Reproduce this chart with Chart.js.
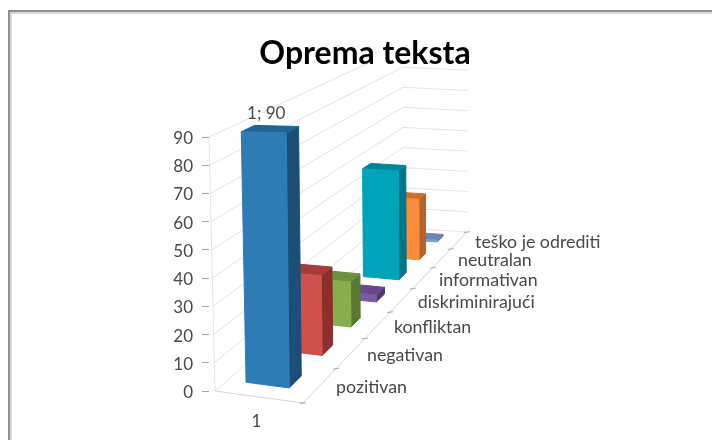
<!DOCTYPE html>
<html><head><meta charset="utf-8">
<script src="https://cdn.jsdelivr.net/npm/chart.js@4"></script>
<style>html,body{margin:0;padding:0;background:#fff}canvas{display:block;filter:blur(.6px)}</style>
</head><body><canvas id="c" width="712" height="440"></canvas>
<script>
const chartTitle = 'Oprema teksta';
const categoryLabel = '1';
const seriesNames = ['pozitivan','negativan','konfliktan','diskriminirajući','informativan','neutralan','teško je odrediti'];
const seriesValues = [90,30,18,3,48,28,1];
const yTicks = [0,10,20,30,40,50,60,70,80,90];
const frontColors = ['#2e7cb5','#cf504c','#85ae4d','#7b5ba3','#00a3b9','#f98d3c','#7e9dcb'];
const sideColors  = ['#1b4f78','#8c2e2b','#587a30','#513a70','#007786','#b4642a','#55709c'];
const topColors   = ['#1f6492','#a93b37','#6c903d','#65498a','#008899','#cf7027','#6a88b6'];
const FONT='Lato, "Open Sans", sans-serif';
const TEXT='#484848';

// Picture-plane corners of the chart's 3-D box.
const box={flb:[215,391],frb:[303,403],flt:[209,137],frt:[301,139],
           blb:[403,228],brb:[467,232],blt:[403,47],brt:[467,50]};
const FORESHORTEN=.66, U0=.21, U1=.71;
const mix=(a,b,k)=>[a[0]+(b[0]-a[0])*k,a[1]+(b[1]-a[1])*k];
const depthT=(d,n)=>d/(d+FORESHORTEN*(n-d));
// u: across the category, t: screen depth, h: fraction of the value axis
function proj(u,t,h){
  const bot=mix(mix(box.flb,box.frb,u),mix(box.blb,box.brb,u),t);
  const top=mix(mix(box.flt,box.frt,u),mix(box.blt,box.brt,u),t);
  return mix(bot,top,h);
}
function poly(ctx,pts,fill,stroke){
  ctx.beginPath();pts.forEach((p,i)=>i?ctx.lineTo(p[0],p[1]):ctx.moveTo(p[0],p[1]));ctx.closePath();
  if(fill){ctx.fillStyle=fill;ctx.fill();}
  if(stroke){ctx.strokeStyle=stroke;ctx.lineWidth=1;ctx.stroke();}
}
function seg(ctx,a,b,col){ctx.beginPath();ctx.moveTo(a[0],a[1]);ctx.lineTo(b[0],b[1]);ctx.strokeStyle=col;ctx.lineWidth=1;ctx.stroke();}

const box3d={
  id:'box3d',
  beforeDraw(chart){
    const {ctx,scales:{y}}=chart;
    ctx.save();
    // frame
    ctx.strokeStyle='#d8d8d8';ctx.lineWidth=4;
    ctx.beginPath();ctx.moveTo(10,chart.height);ctx.lineTo(10,12);ctx.lineTo(chart.width,12);ctx.stroke();
    ctx.strokeStyle='#909090';ctx.lineWidth=2;
    ctx.beginPath();ctx.moveTo(9,chart.height);ctx.lineTo(9,11);ctx.lineTo(chart.width,11);ctx.stroke();
    // walls and floor, one gridline per tick of the value scale
    const col='#e4e4e4';
    y.ticks.forEach(tk=>{
      const h=(y.bottom-y.getPixelForValue(tk.value))/(y.bottom-y.top);
      const a=proj(0,0,h),b=proj(0,1,h),c=proj(1,1,h);
      seg(ctx,a,b,col);seg(ctx,b,c,col);
    });
    seg(ctx,proj(0,0,0),proj(0,0,1),col);
    seg(ctx,proj(0,0,0),proj(1,0,0),'#d4d4d4');
    seg(ctx,proj(1,0,0),proj(1,1,0),'#d4d4d4');
    // the title sits on its own white box
    ctx.fillStyle='#fff';ctx.fillRect(240,20,240,43);
    ctx.restore();
  },
  beforeDatasetDraw(chart,args){
    const {ctx,scales:{x,y}}=chart, n=seriesNames.length;
    const els=chart.getDatasetMeta(args.index).data;
    ctx.save();
    // depth axis ticks and labels
    const step=x.width/n;
    for(let i=0;i<=n;i++){
      const p=proj(1,depthT(i,n),0);
      seg(ctx,[p[0]-3,p[1]+.5],[p[0]+3,p[1]-.3],'#a8a8a8');
    }
    ctx.font='17.8px '+FONT;ctx.fillStyle=TEXT;ctx.textAlign='left';ctx.textBaseline='middle';
    seriesNames.forEach((s,i)=>{
      const p=proj(1,depthT(i+.5,n),0);
      ctx.fillText(s,p[0]+16,p[1]+2.5);
    });
    // category label under the front edge
    const f=proj(.47,0,0);
    ctx.textAlign='center';ctx.font='17px '+FONT;
    ctx.fillText(categoryLabel,f[0],f[1]+25);
    // bars, back to front, positioned from the library's own element geometry
    for(let i=n-1;i>=0;i--){
      const el=els[i];
      const t0=depthT((el.x-el.width/2-x.left)/step,n), t1=depthT((el.x+el.width/2-x.left)/step,n);
      const h=(el.base-el.y)/(y.bottom-y.top);
      poly(ctx,[proj(U1,t0,0),proj(U1,t1,0),proj(U1,t1,h),proj(U1,t0,h)],sideColors[i],sideColors[i]);
      poly(ctx,[proj(U0,t0,h),proj(U1,t0,h),proj(U1,t1,h),proj(U0,t1,h)],topColors[i],topColors[i]);
      poly(ctx,[proj(U0,t0,0),proj(U1,t0,0),proj(U1,t0,h),proj(U0,t0,h)],frontColors[i],frontColors[i]);
    }
    // data label on the tallest series
    const e=els[0];
    const q=proj((U0+U1)/2,depthT((e.x-x.left)/step,n),(e.base-e.y)/(y.bottom-y.top));
    ctx.font='17px '+FONT;ctx.textAlign='center';ctx.fillStyle=TEXT;
    ctx.fillText(categoryLabel+'; '+seriesValues[0],q[0]-4,q[1]-16);
    ctx.restore();
    return false;
  }
};

new Chart(document.getElementById('c'),{
  type:'bar',
  data:{labels:seriesNames,datasets:[{data:seriesValues,backgroundColor:frontColors,barPercentage:.35,categoryPercentage:1}]},
  plugins:[box3d],
  options:{
    responsive:false,animation:false,
    layout:{padding:{left:0,top:0,right:191,bottom:49}},
    plugins:{
      legend:{display:false},tooltip:{enabled:false},
      title:{display:true,text:chartTitle,fullSize:false,color:'#000',
        font:{family:FONT,size:32,weight:'bold',lineHeight:1.2},padding:{top:34,bottom:64.6}}
    },
    scales:{
      x:{display:false},
      y:{min:0,max:90,afterFit(s){s.width=209;},
        afterBuildTicks(s){s.ticks=yTicks.map(v=>({value:v}));},
        border:{display:false},
        grid:{drawOnChartArea:false,tickLength:7,color:'#a8a8a8'},
        ticks:{padding:9,labelOffset:1.5,color:TEXT,font:{family:FONT,size:17}}}
    }
  }
});
</script></body></html>
